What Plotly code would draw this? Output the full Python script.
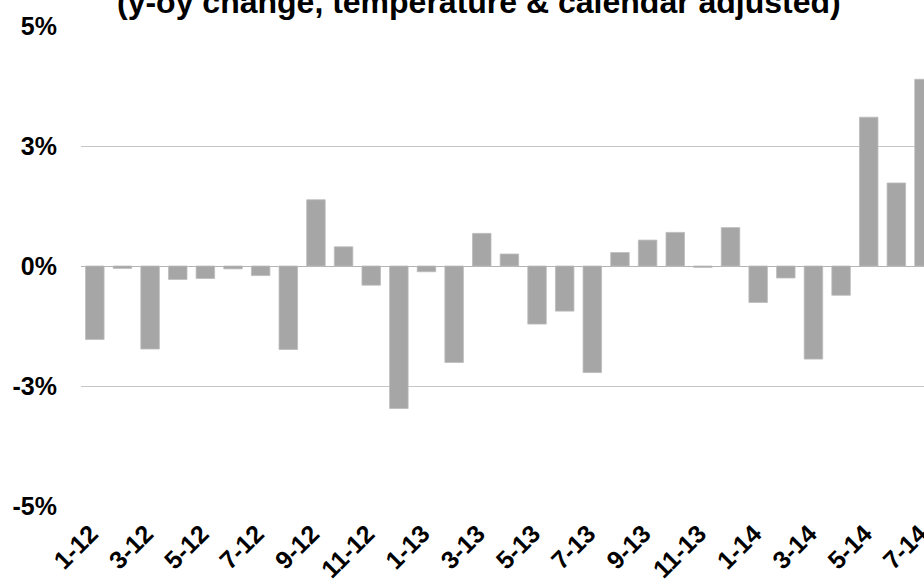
import plotly.graph_objects as go

categories = [f"{m}-12" for m in range(1, 13)] + [f"{m}-13" for m in range(1, 13)] + [f"{m}-14" for m in range(1, 8)]
values = [-1.53, -0.05, -1.73, -0.28, -0.26, -0.06, -0.20, -1.74, 1.38, 0.40,
          -0.40, -2.97, -0.12, -2.01, 0.68, 0.25, -1.21, -0.94, -2.22, 0.28,
          0.54, 0.70, -0.03, 0.80, -0.76, -0.25, -1.94, -0.61, 3.10, 1.73, 3.89]
y_tickvals = [-5, -2.5, 0, 2.5, 5]
y_ticktext = ["-5%", "-3%", "0%", "3%", "5%"]
x_ticklabels = categories[::2]
title_text = "(y-oy change, temperature & calendar adjusted)"

FONT = "Liberation Sans, Arial, sans-serif"

fig = go.Figure(go.Bar(
    x=categories, y=values,
    marker=dict(color="#a6a6a6", line=dict(color="#bdbdbd", width=0.8)),
))

fig.update_layout(
    width=924, height=580,
    margin=dict(l=81, r=0, t=26, b=74, autoexpand=False),
    plot_bgcolor="white", paper_bgcolor="white",
    bargap=0.33,
    showlegend=False,
    font=dict(family=FONT, size=25, color="black"),
    annotations=[dict(
        text="<b>" + title_text + "</b>",
        xref="paper", yref="paper", x=0.472, y=1,
        xanchor="center", yanchor="bottom", yshift=4,
        showarrow=False, font=dict(family=FONT, size=32, color="black"),
    )],
)

fig.update_xaxes(
    type="category", range=[-0.5, 30], automargin=False,
    tickmode="array", tickvals=x_ticklabels, ticktext=["<b>" + t + "</b>" for t in x_ticklabels],
    tickangle=-45, showgrid=False, showline=False, zeroline=False,
    ticks="outside", ticklen=2, tickcolor="rgba(0,0,0,0)", ticklabelshift=-4,
    tickfont=dict(family=FONT, size=25, color="black"),
)
fig.update_yaxes(
    range=[-5, 5], tickmode="array", tickvals=y_tickvals, automargin=False,
    ticktext=["<b>" + t + "</b>" for t in y_ticktext],
    showgrid=True, gridcolor="#c6c6c6", gridwidth=1,
    zeroline=True, zerolinecolor="#b4b4b4", zerolinewidth=1.3,
    showline=False, ticklabelstandoff=23,
    tickfont=dict(family=FONT, size=25, color="black"),
)

fig.write_html(
    "out.html",
    config={"displayModeBar": False},
    post_script="document.body.style.margin='0';document.body.style.overflow='hidden';",
)
